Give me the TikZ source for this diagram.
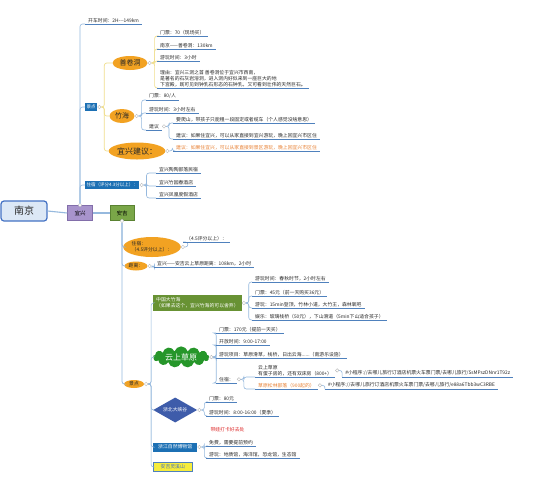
\documentclass[tikz,border=0pt]{standalone}
\usepackage{fontspec}
\setmainfont{Noto Sans CJK SC}
\usetikzlibrary{shapes.geometric, shapes.symbols, positioning}
\definecolor{ulblue}{RGB}{79,129,189}
\definecolor{lnblue}{RGB}{150,185,222}
\definecolor{lnyel}{RGB}{240,222,140}
\definecolor{txtgray}{RGB}{40,40,40}
\definecolor{njfill}{RGB}{220,232,246}
\definecolor{njdraw}{RGB}{68,114,196}
\definecolor{yxfill}{RGB}{168,148,204}
\definecolor{yxdraw}{RGB}{130,110,170}
\definecolor{ajfill}{RGB}{122,166,72}
\definecolor{ajdraw}{RGB}{90,130,50}
\definecolor{boxblue}{RGB}{28,112,180}
\definecolor{orfill}{RGB}{242,162,34}
\definecolor{ortext}{RGB}{232,128,50}
\definecolor{bamboo}{RGB}{104,146,52}
\definecolor{cloudgreen}{RGB}{38,150,42}
\definecolor{gorge}{RGB}{62,92,170}
\definecolor{lxyellow}{RGB}{246,236,60}
\definecolor{redtext}{RGB}{222,40,40}
\newcommand\lf{\fontsize{4.85}{5.8}\selectfont}
\tikzset{
  leaf/.style={anchor=south west, font=\lf, text=txtgray, inner xsep=3pt,
    inner ysep=1.2pt, align=left},
  uline/.style={draw=ulblue, line width=0.9pt},
  conn/.style={draw=lnblue, line width=0.6pt, rounded corners=2.5pt},
  yconn/.style={draw=lnyel, line width=0.7pt, rounded corners=2.5pt},
  trunk/.style={draw=lnblue, line width=1.1pt},
  knob/.style={circle, draw=gray!55, fill=white, line width=0.4pt,
    minimum size=3.5pt, inner sep=0pt},
  topicbox/.style={rectangle, fill=boxblue, text=white,
    font=\fontsize{4.5}{5.4}\selectfont, inner sep=1.5pt, minimum height=8pt},
  orball/.style={ellipse, fill=orfill, text=txtgray, inner sep=0pt}
}
\newcommand\brk[3][conn]{\draw[#1] (#2.east) -- ++(3,0) |- (#3.south west);}
\newcommand\brkw[3][conn]{\draw[#1] (#2.east) -- ++(3,0) |- (#3.west);}

\begin{document}
\begin{tikzpicture}[x=1pt, y=-1pt]
  \useasboundingbox[fill=white] (0,0) rectangle (541,480);

  % Main line
  \node[rectangle, rounded corners=3pt, fill=njfill, draw=njdraw, line width=1.2pt,
    minimum width=46pt, minimum height=20pt, text=txtgray,
    font=\fontsize{10}{12}\selectfont] (nj) at (24,211) {南京};
  \node[rectangle, fill=yxfill, draw=yxdraw, line width=0.6pt, minimum width=25pt,
    minimum height=15pt, font=\fontsize{5.5}{6.5}\selectfont] (yx) at (80,213) {宜兴};
  \node[rectangle, fill=ajfill, draw=ajdraw, line width=0.6pt, minimum width=24pt,
    minimum height=15pt, font=\fontsize{5.5}{6.5}\selectfont] (aj) at (122,213) {安吉};
  \draw[trunk] (nj.east) -- (yx.west);
  \draw[trunk] (yx.east) -- (aj.west);

  % Yixing
  \node[knob] (yxk) at (yx.north) {};
  \node[leaf] (drive) at (85,24) {开车时间：2H-{}-{}-149km};
  \node[topicbox, anchor=west] (jd1) at (85,107) {景点};
  \node[topicbox, anchor=west] (zs1) at (85,185) {住宿（评分4.3分以上）：};
  \draw[conn] (yxk.north) |- (drive.south west);
  \draw[conn] (yxk.north) |- (jd1.west);
  \draw[conn] (yxk.north) |- (zs1.west);

  \node[knob, anchor=west] (jd1k) at (jd1.east) {};
  \node[orball, minimum width=35pt, minimum height=14pt,
    font=\fontsize{7}{8}\selectfont] (sjd) at (130,63) {善卷洞};
  \node[orball, minimum width=25pt, minimum height=14pt,
    font=\fontsize{7}{8}\selectfont] (zhh) at (122,116) {竹海};
  \node[orball, minimum width=54pt, minimum height=17pt,
    font=\fontsize{8}{9}\selectfont] (yxjy) at (137,151) {宜兴建议：};
  \brkw[yconn]{jd1k}{sjd}
  \brkw[yconn]{jd1k}{zhh}
  \brkw[yconn]{jd1k}{yxjy}

  % Shanjuan cave
  \node[knob, anchor=west] (sjdk) at (sjd.east) {};
  \node[leaf] (sj1) at (157,36) {门票：70（现场买）};
  \node[leaf] (sj2) at (157,49) {南京——善卷洞：130km};
  \node[leaf] (sj3) at (157,61) {游玩时间：3小时};
  \node[leaf] (sj4) at (157,88) {理由：宜兴三洞之首 善卷洞位于宜兴市西南，\\
    是著名的石灰岩溶洞，进入洞内好似来到一座巨大的地\\
    下宫殿，既可见到钟乳石形态的石钟乳，又可看到壮伟的天然巨石。};
  \foreach \n in {sj1,sj2,sj3,sj4} { \brk[yconn]{sjdk}{\n} }

  % Bamboo sea
  \node[knob, anchor=west] (zhhk) at (zhh.east) {};
  \node[leaf] (zh1) at (146,100) {门票：80/人};
  \node[leaf] (zh2) at (146,113) {游玩时间：3小时左右};
  \node[leaf] (zh3) at (146,130) {建议};
  \foreach \n in {zh1,zh2,zh3} { \brk{zhhk}{\n} }
  \node[knob, anchor=west] (zh3k) at (zh3.east) {};
  \node[leaf] (zh31) at (173,123) {要爬山，带孩子只能租一段固定或者缆车（个人感觉没啥意思）};
  \node[leaf] (zh32) at (173,139) {建议：如果住宜兴，可以从家直接到宜兴游玩，晚上回宜兴市区住};
  \brk{zh3k}{zh31}
  \brk{zh3k}{zh32}

  % Yixing advice
  \node[knob, anchor=west] (yxjyk) at (yxjy.east) {};
  \node[leaf, text=ortext] (jy1) at (173,151) {建议：如果住宜兴，可以从家直接到景区游玩，晚上回宜兴市区住};
  \brk{yxjyk}{jy1}

  % Yixing hotels
  \node[knob, anchor=west] (zs1k) at (zs1.east) {};
  \node[leaf] (zs11) at (156,173) {宜兴陶陶部落民宿};
  \node[leaf] (zs12) at (156,186) {宜兴竹园春酒店};
  \node[leaf] (zs13) at (156,198) {宜兴凤凰度假酒店};
  \foreach \n in {zs11,zs12,zs13} { \brk{zs1k}{\n} }

  % Anji
  \node[knob] (ajk) at (aj.south) {};
  \node[orball, minimum width=50pt, minimum height=20pt, font=\lf, align=left]
    (zs2) at (152,247) {住宿：\\（4.5评分以上）：};
  \node[orball, minimum width=23pt, minimum height=9pt, font=\lf] (jl) at (136,266) {距离：};
  \node[orball, minimum width=20pt, minimum height=8pt, font=\lf] (jd2) at (134,384) {景点};
  \draw[conn, line width=0.8pt] (ajk.south) |- (zs2.west);
  \draw[conn, line width=0.8pt] (ajk.south) |- (jl.west);
  \draw[conn, line width=0.8pt] (ajk.south) |- (jd2.west);

  \node[knob, anchor=west] (zs2k) at (zs2.east) {};
  \node[leaf] (zs21) at (183,242) {（4.5评分以上）：};
  \brk{zs2k}{zs21}
  \node[knob, anchor=west] (jlk) at (jl.east) {};
  \node[leaf] (jl1) at (154,267) {宜兴——安吉云上草原距离：108km，2小时};
  \brk{jlk}{jl1}

  % Anji sights
  \node[knob, anchor=west] (jd2k) at (jd2.east) {};
  \node[rectangle, fill=bamboo, text=white, font=\lf, align=left, inner sep=3pt,
    anchor=west] (dzh) at (153,303) {中国大竹海\\（如果去这个，宜兴竹海的可以舍弃）};
  \node[cloud, cloud puffs=13, aspect=3.4, fill=cloudgreen, text=white,
    inner xsep=0pt, inner ysep=-4pt, font=\fontsize{8}{9}\selectfont,
    minimum width=56pt, minimum height=21pt, anchor=west] (ysc) at (153,357) {云上草原};
  \node[diamond, aspect=1.8, fill=gorge, text=white, font=\lf, inner sep=0pt,
    minimum width=44pt, minimum height=25pt, anchor=west] (xgu) at (153,410) {浙北大峡谷};
  \node[rectangle, fill=boxblue, text=white, font=\lf, inner sep=1.2pt,
    minimum width=44pt, minimum height=9pt, anchor=west] (bwg) at (153,447) {浙江自然博物馆};
  \node[rectangle, fill=lxyellow, draw=ulblue, line width=0.6pt, text=njdraw, font=\lf,
    inner sep=1.2pt, minimum width=39pt, minimum height=9pt, anchor=west] (lxs) at (153,467) {安吉灵溪山};
  \foreach \n in {dzh,ysc,xgu,bwg,lxs} { \brkw{jd2k}{\n} }

  % Bamboo sea of China
  \node[knob, anchor=west] (dzhk) at (dzh.east) {};
  \node[leaf] (dz1) at (252,282) {游玩时间：春秋时节，2小时左右};
  \node[leaf] (dz2) at (252,296) {门票：45元（前一天购买36元）};
  \node[leaf] (dz3) at (252,308) {游玩：15min登顶，竹林小道，大竹王，森林氧吧};
  \node[leaf] (dz4) at (252,320) {娱乐：玻璃栈桥（50元），下山滑道（5min下山适合孩子）};
  \foreach \n in {dz1,dz2,dz3,dz4} { \brk{dzhk}{\n} }

  % Grassland in the clouds
  \node[knob, anchor=west] (ysck) at (ysc.east) {};
  \node[leaf] (ys1) at (216,333) {门票：170元（提前一天买）};
  \node[leaf] (ys2) at (216,345) {开放时间：9:00-17:00};
  \node[leaf] (ys3) at (216,358) {游玩项目：草原滑草，栈桥，日出云海......（南游乐设施）};
  \node[leaf] (ys4) at (216,383) {住宿：};
  \foreach \n in {ys1,ys2,ys3,ys4} { \brk{ysck}{\n} }
  \node[knob, anchor=west] (ys4k) at (ys4.east) {};
  \node[leaf] (ys41) at (255,377) {云上草原\\有蛋子房的，还有双床房（800+）};
  \node[leaf, text=ortext] (ys42) at (255,389) {草原松林部落（900起的）};
  \brk{ys4k}{ys41}
  \brk{ys4k}{ys42}
  \node[knob, anchor=west] (ys41k) at (ys41.east) {};
  \node[leaf, xshift=3pt] (ys41a) at (ys41k.east |- ys41.south)
    {\#小程序://去哪儿旅行订酒店机票火车票门票/去哪儿旅行/SsMPszDNnr1T92z};
  \brk{ys41k}{ys41a}
  \node[knob, anchor=west] (ys42k) at (ys42.east) {};
  \node[leaf, xshift=3pt] (ys42a) at (ys42k.east |- ys42.south)
    {\#小程序://去哪儿旅行订酒店机票火车票门票/去哪儿旅行/e88a6Tbb3wC3RBE};
  \brk{ys42k}{ys42a}

  % Gorge
  \node[knob, anchor=west] (xguk) at (xgu.east) {};
  \node[leaf] (xg1) at (206,402) {门票：80元};
  \node[leaf] (xg2) at (206,416) {游玩时间：8:00-16:00（夏季）};
  \brk{xguk}{xg1}
  \brk{xguk}{xg2}

  % Museum
  \node[knob, anchor=west] (bwgk) at (bwg.east) {};
  \node[font=\lf, text=redtext, anchor=west] (bwtag) at (207,430) {带娃打卡好去处};
  \node[leaf] (bw1) at (206,446) {免费，需要提前预约};
  \node[leaf] (bw2) at (206,458) {游玩：地质馆，海洋馆，恐龙馆，生态馆};
  \brk{bwgk}{bw1}
  \brk{bwgk}{bw2}

  % Underlines
  \foreach \n in {drive,sj1,sj2,sj3,sj4,zh1,zh2,zh3,zh31,zh32,jy1,zs11,zs12,zs13,
    zs21,jl1,dz1,dz2,dz3,dz4,ys1,ys2,ys3,ys4,ys41,ys42,ys41a,ys42a,xg1,xg2,bw1,bw2}
    { \draw[uline] (\n.south west) -- (\n.south east); }
\end{tikzpicture}
\end{document}
